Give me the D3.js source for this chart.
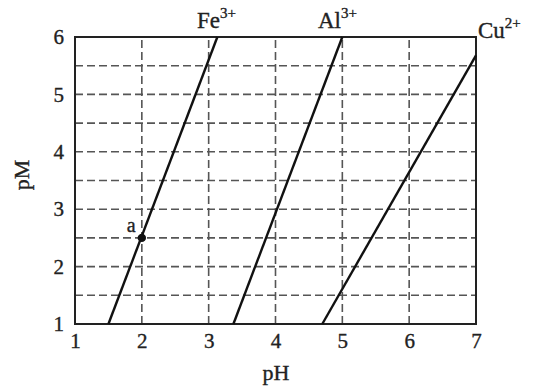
<!DOCTYPE html>
<html><head><meta charset="utf-8">
<script src="https://cdn.jsdelivr.net/npm/d3@7"></script>
<style>body{margin:0;background:#fff}svg{display:block}text{font-family:"Liberation Serif","Times New Roman",serif;fill:#222;stroke:#222;stroke-width:0.35px}</style>
</head><body><svg id="c" width="546" height="387"></svg>
<script>
const xTicks = [1,2,3,4,5,6,7];
const yTicks = [1,2,3,4,5,6];
const yGrid = [1.5,2,2.5,3,3.5,4,4.5,5,5.5];
const xGrid = [2,3,4,5,6];
const ions = ["Fe", "Al", "Cu"];
const ionCharge = ["3+", "3+", "2+"];
const linePH = [[1.5, 3.13], [3.37, 5.0], [4.7, 7]];
const linePM = [[1, 6], [1, 6], [1, 5.68]];
const pointA = {pH: 2, pM: 2.5, label: "a"};

const svg = d3.select("#c");
const x = d3.scaleLinear().domain([1,7]).range([75,476]);
const y = d3.scaleLinear().domain([1,6]).range([324,37]);

svg.append("g").selectAll("line").data(yGrid).join("line")
  .attr("x1", x(1)).attr("x2", x(7)).attr("y1", d=>y(d)).attr("y2", d=>y(d))
  .attr("stroke", "#555").attr("stroke-width", 1.6).attr("stroke-dasharray", "8,4");
svg.append("g").selectAll("line").data(xGrid).join("line")
  .attr("y1", y(1)).attr("y2", y(6)).attr("x1", d=>x(d)).attr("x2", d=>x(d))
  .attr("stroke", "#555").attr("stroke-width", 1.6).attr("stroke-dasharray", "8,4");

svg.append("rect").attr("x", x(1)).attr("y", y(6)).attr("width", x(7)-x(1)).attr("height", y(1)-y(6))
  .attr("fill", "none").attr("stroke", "#222").attr("stroke-width", 2);

const xAxis = d3.axisBottom(x).tickValues(xTicks).tickSize(0).tickPadding(9).tickFormat(d3.format("d"));
const gx = svg.append("g").attr("transform", `translate(0,${y(1)})`).call(xAxis);
gx.select(".domain").remove();
gx.selectAll("text").attr("font-size", 21).style("font-family", '"Liberation Serif",serif').attr("fill", "#222");
const yAxis = d3.axisLeft(y).tickValues(yTicks).tickSize(0).tickPadding(11).tickFormat(d3.format("d"));
const gy = svg.append("g").attr("transform", `translate(${x(1)},0)`).call(yAxis);
gy.select(".domain").remove();
gy.selectAll("text").attr("font-size", 21).style("font-family", '"Liberation Serif",serif').attr("fill", "#222");

svg.append("text").attr("x", 276).attr("y", 380).attr("text-anchor", "middle").attr("font-size", 22).text("pH");
svg.append("text").attr("transform", "translate(29,175) rotate(-90)").attr("text-anchor", "middle").attr("font-size", 22).text("pM");

const line = d3.line().x(d=>x(d[0])).y(d=>y(d[1]));
ions.forEach((ion, i) => {
  const pts = [[linePH[i][0], linePM[i][0]], [linePH[i][1], linePM[i][1]]];
  svg.append("path").attr("d", line(pts)).attr("stroke", "#111").attr("stroke-width", 2.4).attr("fill", "none");
});

const labelPos = [[197, 28], [318, 28], [478, 38]];
ions.forEach((ion, i) => {
  const t = svg.append("text").attr("x", labelPos[i][0]).attr("y", labelPos[i][1]).attr("font-size", 23);
  t.append("tspan").text(ion);
  t.append("tspan").attr("dy", -10).attr("font-size", 15).text(ionCharge[i]);
});

svg.append("circle").attr("cx", x(pointA.pH)).attr("cy", y(pointA.pM)).attr("r", 4.2).attr("fill", "#111");
svg.append("text").attr("x", x(pointA.pH)-15).attr("y", y(pointA.pM)-6).attr("font-size", 20).text(pointA.label);
</script></body></html>
